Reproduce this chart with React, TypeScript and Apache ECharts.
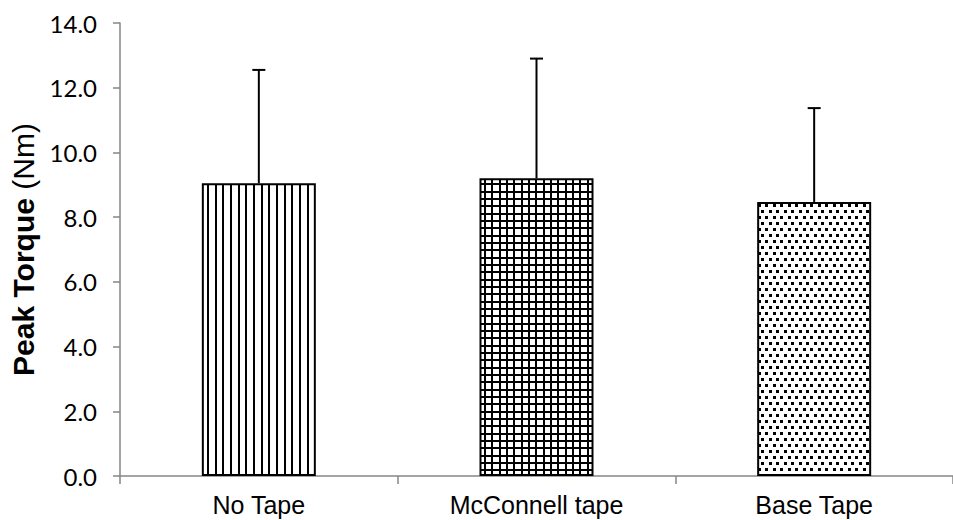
import React, { useEffect, useRef } from 'react';
import * as echarts from 'echarts';

const categories = ['No Tape', 'McConnell tape', 'Base Tape'];
const means = [9.05, 9.2, 8.47];
const sds = [3.5, 3.7, 2.9];
const yMin = 0;
const yMax = 14;
const yInterval = 2;

function makeTile(kind: string) {
  const c = document.createElement('canvas');
  let w = 23, h = 4;
  if (kind === 'grid') { w = 22; h = 22; }
  if (kind === 'dots') { w = 15; h = 12; }
  c.width = w; c.height = h;
  const ctx = c.getContext('2d')!;
  ctx.fillStyle = '#ffffff';
  ctx.fillRect(0, 0, w, h);
  ctx.fillStyle = '#000000';
  if (kind === 'stripes') {
    [0, 8, 15].forEach((x) => ctx.fillRect(x, 0, 2, h));
  } else if (kind === 'grid') {
    [0, 7, 15].forEach((p) => {
      ctx.fillRect(p, 0, 2, h);
      ctx.fillRect(0, p, w, 2);
    });
  } else {
    [[0, 0], [8, 0], [4, 6], [11, 6]].forEach(([x, y]) => ctx.fillRect(x, y, 3, 3));
  }
  return { image: c, repeat: 'repeat', imageWidth: w, imageHeight: h } as any;
}

export default function App() {
  const ref = useRef<HTMLDivElement>(null);
  useEffect(() => {
    document.body.style.margin = '0';
    const chart = echarts.init(ref.current!, null, { renderer: 'svg' });
    const patterns = [makeTile('stripes'), makeTile('grid'), makeTile('dots')];
    chart.setOption({
      animation: false,
      backgroundColor: '#ffffff',
      grid: { left: 118, top: 23, height: 453, width: 840 },
      xAxis: {
        type: 'category',
        data: categories,
        axisLine: { lineStyle: { color: '#868686', width: 1.5 } },
        axisTick: { show: true, length: 8, lineStyle: { color: '#868686', width: 1.5 } },
        axisLabel: { color: '#000', fontFamily: 'Liberation Sans', fontSize: 25, margin: 16 },
      },
      yAxis: {
        type: 'value',
        min: yMin,
        max: yMax,
        interval: yInterval,
        splitLine: { show: false },
        axisLine: { show: true, lineStyle: { color: '#868686', width: 1.5 } },
        axisTick: { show: true, length: 7, lineStyle: { color: '#868686', width: 1.5 } },
        axisLabel: {
          color: '#000',
          fontFamily: 'Lato',
          fontSize: 24,
          margin: 23,
          formatter: (v: number) => v.toFixed(1),
        },
        name: '{b|Peak Torque }{r|(Nm)}',
        nameLocation: 'middle',
        nameGap: 82,
        nameTextStyle: {
          rich: {
            b: { fontFamily: 'Liberation Sans', fontWeight: 'bold', fontSize: 30, color: '#000' },
            r: { fontFamily: 'Liberation Sans', fontSize: 30, color: '#000' },
          },
        },
      },
      series: [
        {
          type: 'bar',
          barWidth: 114,
          data: means.map((v, i) => ({ value: v, itemStyle: { color: patterns[i] } })),
          itemStyle: { borderColor: '#000', borderWidth: 2 },
        },
        {
          type: 'custom',
          z: 5,
          encode: { x: 0, y: 1 },
          data: means.map((m, i) => [i, m, sds[i]]),
          renderItem: (params: any, api: any) => {
            const i = api.value(0);
            const m = api.value(1);
            const s = api.value(2);
            const b = api.coord([i, m]);
            const t = api.coord([i, m + s]);
            const hw = 6.5;
            return {
              type: 'group',
              children: [
                { type: 'line', shape: { x1: t[0], y1: t[1], x2: b[0], y2: b[1] }, style: { stroke: '#000', lineWidth: 2 } },
                { type: 'line', shape: { x1: t[0] - hw, y1: t[1], x2: t[0] + hw, y2: t[1] }, style: { stroke: '#000', lineWidth: 2 } },
              ],
            };
          },
        },
      ],
    });
    return () => chart.dispose();
  }, []);
  return <div ref={ref} style={{ width: 953, height: 520 }} />;
}
